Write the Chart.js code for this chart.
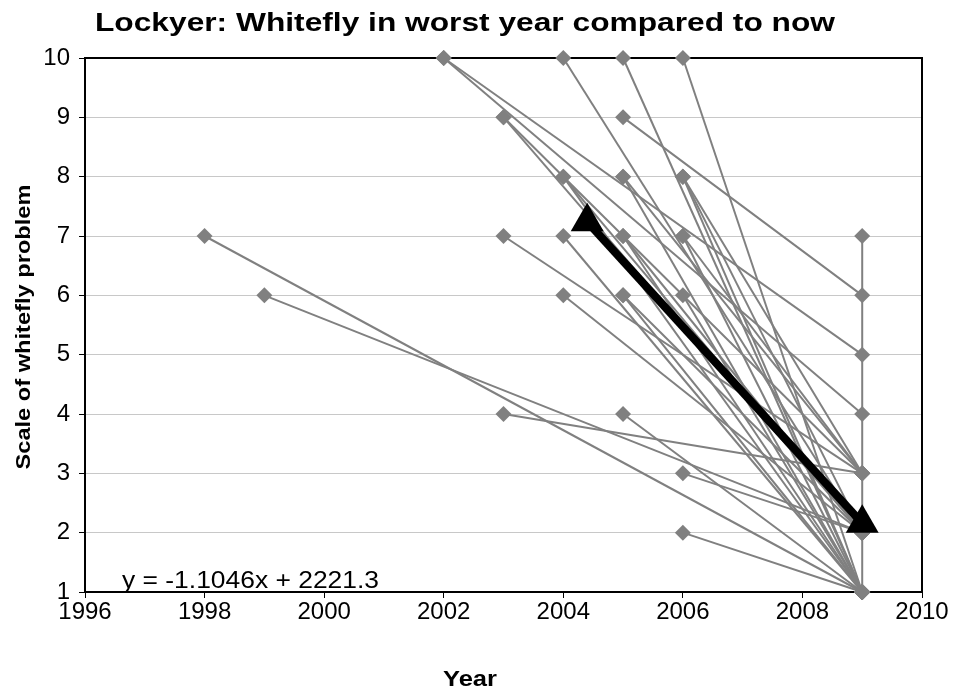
<!DOCTYPE html>
<html>
<head>
<meta charset="utf-8">
<title>Lockyer: Whitefly in worst year compared to now</title>
<script src="https://cdn.jsdelivr.net/npm/chart.js@4/dist/chart.umd.min.js"></script>
<style>
  html, body { margin: 0; padding: 0; background: #ffffff; }
  canvas { display: block; }
</style>
</head>
<body>
<canvas id="chart" width="961" height="697"></canvas>
<script>
// Each grower: the year whitefly was worst, the score that year, and the score now (2009).
const worstYear  = [1998, 1999, 2002, 2002, 2003, 2003, 2003, 2003, 2004, 2004, 2004, 2004, 2004,
                    2005, 2005, 2005, 2005, 2005, 2005, 2005, 2005, 2005,
                    2006, 2006, 2006, 2006, 2006, 2006, 2006, 2006, 2006, 2009];
const worstScore = [7, 6, 10, 10, 9, 9, 7, 4, 10, 8, 8, 7, 6,
                    10, 9, 8, 8, 7, 7, 6, 6, 4,
                    10, 8, 8, 8, 7, 7, 6, 3, 2, 7];
const nowScore   = [1, 2, 5, 4, 3, 2, 3, 3, 2, 1, 2, 1, 2,
                    1, 6, 1, 3, 1, 2, 1, 2, 1,
                    1, 1, 2, 3, 1, 3, 1, 2, 1, 1];
const nowYear = 2009;

// Axis ticks
const xTickYears  = [1996, 1998, 2000, 2002, 2004, 2006, 2008, 2010];
const yTickScores = [1, 2, 3, 4, 5, 6, 7, 8, 9, 10];

// Linear trend of score against year
const trendSlope = -1.1046;
const trendIntercept = 2221.3;
const trendYears = [2004.4, 2009];

const FONT = '"Liberation Sans", Arial, Helvetica, sans-serif';
const GREY = '#808080';

const growerSets = worstYear.map((yr, i) => ({
  data: [{ x: yr, y: worstScore[i] }, { x: nowYear, y: nowScore[i] }],
  borderColor: GREY,
  borderWidth: 2,
  pointStyle: 'rectRot',
  pointRadius: 8,
  pointBackgroundColor: GREY,
  pointBorderColor: GREY,
  pointBorderWidth: 0,
  clip: false,
  order: 1
}));

const trendSet = {
  data: trendYears.map(yr => ({ x: yr, y: trendSlope * yr + trendIntercept })),
  borderColor: '#000000',
  borderWidth: 8,
  pointStyle: 'triangle',
  pointRadius: 19,
  pointBackgroundColor: '#000000',
  pointBorderColor: '#000000',
  pointBorderWidth: 0,
  clip: false,
  order: 0
};

function stretchedText(ctx, str, x, y, font, width, align, angle) {
  ctx.save();
  ctx.font = font;
  const s = width / ctx.measureText(str).width;
  ctx.translate(x, y);
  if (angle) ctx.rotate(angle);
  ctx.scale(s, 1);
  ctx.textAlign = align;
  ctx.textBaseline = 'alphabetic';
  ctx.fillStyle = '#000000';
  ctx.fillText(str, 0, 0);
  ctx.restore();
}

const frameAndLabels = {
  id: 'frameAndLabels',
  beforeDatasetsDraw(chart) {
    const { ctx, chartArea: a } = chart;
    ctx.save();
    ctx.strokeStyle = '#000000';
    ctx.lineWidth = 2;
    ctx.strokeRect(a.left, a.top, a.right - a.left, a.bottom - a.top);
    ctx.restore();
  },
  afterDraw(chart) {
    const ctx = chart.ctx;
    stretchedText(ctx, 'Lockyer: Whitefly in worst year compared to now', 465, 31,
                  'bold 25px ' + FONT, 740, 'center');
    stretchedText(ctx, 'Year', 470, 686, 'bold 22px ' + FONT, 54, 'center');
    stretchedText(ctx, 'Scale of whitefly problem', 30, 327, 'bold 20px ' + FONT, 285, 'center', -Math.PI / 2);
    stretchedText(ctx, 'y = -1.1046x + 2221.3', 122, 588, '23px ' + FONT, 257, 'left');
  }
};

new Chart(document.getElementById('chart'), {
  type: 'line',
  data: { datasets: [trendSet, ...growerSets] },
  options: {
    responsive: false,
    animation: false,
    devicePixelRatio: 1,
    layout: { padding: { left: 0, top: 58, right: 39, bottom: 0 } },
    plugins: { legend: { display: false }, tooltip: { enabled: false }, title: { display: false } },
    elements: { line: { tension: 0 } },
    scales: {
      x: {
        type: 'linear',
        min: xTickYears[0],
        max: xTickYears[xTickYears.length - 1],
        afterBuildTicks(scale) { scale.ticks = xTickYears.map(v => ({ value: v })); },
        afterFit(scale) { scale.height = 105; },
        grid: { drawOnChartArea: false, drawTicks: true, tickLength: 6, tickColor: '#000000', tickWidth: 1 },
        border: { display: true, color: '#000000', width: 2 },
        ticks: {
          color: '#000000',
          padding: 0,
          maxRotation: 0,
          font: { family: FONT, size: 24 },
          callback: v => String(v)
        }
      },
      y: {
        type: 'linear',
        min: yTickScores[0],
        max: yTickScores[yTickScores.length - 1],
        afterBuildTicks(scale) { scale.ticks = yTickScores.map(v => ({ value: v })); },
        afterFit(scale) { scale.width = 85; },
        grid: { color: '#c8c8c8', lineWidth: 1, drawTicks: true, tickLength: 6, tickColor: '#000000', tickWidth: 1 },
        border: { display: true, color: '#000000', width: 2 },
        ticks: {
          color: '#000000',
          padding: 9,
          font: { family: FONT, size: 24 },
          callback: v => String(v)
        }
      }
    }
  },
  plugins: [frameAndLabels]
});
</script>
</body>
</html>
